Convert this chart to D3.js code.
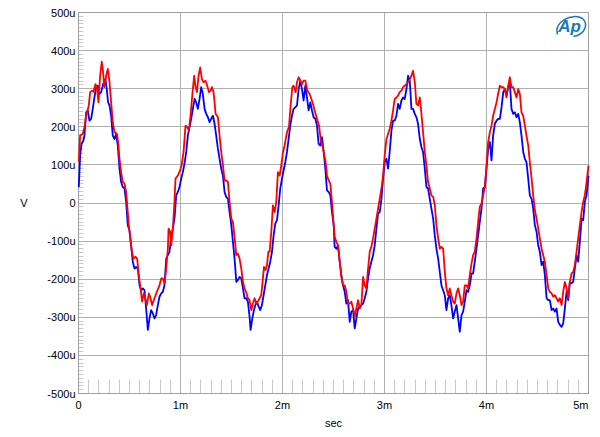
<!DOCTYPE html>
<html>
<head>
<meta charset="utf-8">
<script src="https://cdn.jsdelivr.net/npm/d3@7"></script>
<style>
    body { margin: 0; background: #fff; }
    #chart-area { width: 600px; height: 437px; }
    text { font-family: Arial, "Liberation Sans", sans-serif; font-size: 11px; fill: #000; }
</style>
</head>
<body>
<div id="chart-area"></div>
<script>
// time in ms, level in uV
const redData = [[0.003,109],[0.016,177],[0.042,182],[0.058,199],[0.075,229],[0.101,256],[0.114,291],[0.133,295],[0.147,292],[0.166,312],[0.179,304],[0.196,264],[0.212,334],[0.228,371],[0.238,352],[0.254,304],[0.271,334],[0.287,352],[0.304,317],[0.320,264],[0.336,212],[0.353,186],[0.376,182],[0.389,160],[0.402,116],[0.418,81],[0.434,55],[0.451,51],[0.467,29],[0.483,-24],[0.493,-58],[0.506,-89],[0.523,-128],[0.539,-146],[0.559,-141],[0.575,-146],[0.591,-189],[0.608,-224],[0.624,-259],[0.640,-237],[0.654,-250],[0.670,-268],[0.690,-237],[0.706,-250],[0.722,-268],[0.745,-250],[0.768,-233],[0.794,-216],[0.811,-198],[0.827,-198],[0.843,-211],[0.860,-172],[0.876,-120],[0.883,-67],[0.899,-76],[0.909,-111],[0.925,-67],[0.941,3],[0.951,64],[0.974,72],[0.997,86],[1.013,103],[1.030,134],[1.049,203],[1.066,199],[1.082,190],[1.098,229],[1.121,299],[1.134,334],[1.148,304],[1.161,291],[1.177,334],[1.193,356],[1.210,325],[1.226,317],[1.246,321],[1.262,308],[1.278,291],[1.295,295],[1.308,304],[1.324,291],[1.334,264],[1.344,234],[1.367,225],[1.383,177],[1.399,134],[1.416,99],[1.432,59],[1.448,59],[1.465,55],[1.481,3],[1.498,-41],[1.514,-50],[1.530,-89],[1.547,-137],[1.563,-133],[1.579,-146],[1.596,-172],[1.612,-207],[1.628,-224],[1.645,-235],[1.661,-250],[1.677,-255],[1.694,-281],[1.710,-264],[1.726,-250],[1.743,-264],[1.759,-259],[1.776,-250],[1.792,-242],[1.808,-198],[1.818,-168],[1.834,-176],[1.848,-163],[1.861,-128],[1.874,-128],[1.890,-76],[1.906,-6],[1.923,-24],[1.939,3],[1.955,81],[1.972,72],[1.988,99],[2.005,134],[2.021,151],[2.044,186],[2.063,199],[2.080,256],[2.096,304],[2.109,308],[2.129,291],[2.142,317],[2.158,330],[2.175,321],[2.191,312],[2.207,321],[2.224,321],[2.243,295],[2.266,286],[2.283,273],[2.299,260],[2.315,243],[2.338,221],[2.358,203],[2.374,168],[2.390,151],[2.404,134],[2.423,107],[2.436,72],[2.453,59],[2.469,51],[2.485,3],[2.502,-58],[2.512,-89],[2.528,-102],[2.544,-111],[2.561,-154],[2.577,-194],[2.593,-216],[2.610,-216],[2.626,-233],[2.642,-264],[2.659,-264],[2.675,-259],[2.692,-277],[2.708,-298],[2.724,-277],[2.741,-255],[2.757,-277],[2.773,-268],[2.790,-194],[2.806,-216],[2.822,-224],[2.839,-172],[2.855,-128],[2.871,-115],[2.888,-93],[2.904,-67],[2.921,-41],[2.937,-15],[2.953,11],[2.970,38],[2.986,72],[3.002,125],[3.019,168],[3.035,181],[3.051,195],[3.068,216],[3.084,243],[3.100,273],[3.117,277],[3.133,282],[3.149,291],[3.166,295],[3.182,304],[3.198,308],[3.215,312],[3.231,317],[3.248,325],[3.264,334],[3.280,347],[3.297,317],[3.313,260],[3.329,256],[3.346,277],[3.362,234],[3.378,186],[3.395,134],[3.411,99],[3.427,55],[3.444,38],[3.460,20],[3.477,16],[3.493,-6],[3.509,-58],[3.526,-93],[3.542,-120],[3.558,-115],[3.575,-120],[3.591,-181],[3.607,-224],[3.624,-242],[3.640,-224],[3.656,-242],[3.673,-259],[3.689,-264],[3.706,-237],[3.722,-224],[3.738,-242],[3.755,-268],[3.771,-259],[3.787,-216],[3.804,-216],[3.820,-224],[3.836,-189],[3.853,-159],[3.869,-137],[3.885,-128],[3.902,-93],[3.918,-50],[3.934,-10],[3.951,-2],[3.967,20],[3.984,42],[4.000,99],[4.016,160],[4.033,186],[4.049,203],[4.065,229],[4.082,247],[4.098,264],[4.114,286],[4.131,308],[4.147,304],[4.164,304],[4.180,299],[4.196,277],[4.213,308],[4.229,330],[4.245,304],[4.262,304],[4.278,291],[4.294,277],[4.311,299],[4.327,286],[4.343,238],[4.360,229],[4.376,203],[4.392,177],[4.409,151],[4.425,107],[4.442,64],[4.458,20],[4.474,-19],[4.491,-41],[4.507,-67],[4.523,-93],[4.540,-120],[4.556,-137],[4.572,-154],[4.589,-189],[4.605,-224],[4.621,-233],[4.638,-237],[4.654,-246],[4.670,-242],[4.687,-250],[4.703,-259],[4.719,-250],[4.736,-268],[4.752,-233],[4.768,-207],[4.785,-224],[4.801,-250],[4.817,-207],[4.834,-185],[4.850,-181],[4.866,-163],[4.883,-128],[4.899,-93],[4.915,-58],[4.932,-24],[4.948,3],[4.964,20],[4.981,55],[5.0,99]];

const blueData = [[0.003,42],[0.016,125],[0.029,155],[0.048,164],[0.058,177],[0.075,238],[0.091,243],[0.107,216],[0.124,221],[0.140,247],[0.156,277],[0.173,304],[0.189,308],[0.205,286],[0.222,291],[0.238,308],[0.254,321],[0.264,325],[0.277,299],[0.290,264],[0.304,256],[0.320,229],[0.336,177],[0.353,168],[0.369,181],[0.385,151],[0.402,90],[0.418,55],[0.434,42],[0.451,38],[0.467,3],[0.483,-58],[0.500,-72],[0.516,-111],[0.532,-154],[0.549,-172],[0.565,-168],[0.582,-172],[0.598,-216],[0.614,-229],[0.631,-224],[0.647,-229],[0.663,-277],[0.680,-333],[0.696,-303],[0.712,-281],[0.729,-290],[0.745,-303],[0.761,-294],[0.778,-268],[0.794,-246],[0.811,-237],[0.827,-233],[0.843,-216],[0.860,-146],[0.876,-137],[0.892,-128],[0.909,-89],[0.925,-67],[0.941,-41],[0.958,20],[0.974,29],[0.990,42],[1.007,64],[1.023,81],[1.039,103],[1.056,134],[1.072,177],[1.089,199],[1.105,221],[1.121,247],[1.138,273],[1.154,264],[1.170,247],[1.187,273],[1.203,304],[1.219,286],[1.236,247],[1.252,234],[1.269,225],[1.285,212],[1.301,221],[1.318,229],[1.334,208],[1.350,177],[1.367,142],[1.383,116],[1.399,90],[1.416,72],[1.432,29],[1.448,16],[1.465,11],[1.481,-24],[1.498,-58],[1.514,-102],[1.530,-146],[1.547,-207],[1.563,-202],[1.579,-194],[1.596,-198],[1.612,-224],[1.628,-250],[1.645,-250],[1.661,-259],[1.677,-298],[1.687,-333],[1.704,-303],[1.717,-285],[1.733,-268],[1.749,-259],[1.766,-272],[1.782,-281],[1.798,-268],[1.815,-242],[1.831,-216],[1.848,-189],[1.864,-172],[1.880,-154],[1.897,-128],[1.913,-85],[1.929,-54],[1.946,-45],[1.962,-6],[1.978,38],[1.995,64],[2.011,86],[2.027,107],[2.044,134],[2.060,168],[2.076,203],[2.093,229],[2.109,247],[2.125,251],[2.142,256],[2.158,299],[2.175,321],[2.191,299],[2.207,269],[2.224,308],[2.240,277],[2.256,243],[2.273,264],[2.289,243],[2.305,225],[2.322,221],[2.338,203],[2.354,155],[2.371,151],[2.387,173],[2.404,134],[2.420,90],[2.436,33],[2.453,29],[2.469,20],[2.485,-24],[2.502,-58],[2.511,-115],[2.528,-120],[2.544,-111],[2.561,-154],[2.577,-189],[2.593,-216],[2.610,-233],[2.626,-264],[2.642,-255],[2.659,-312],[2.675,-285],[2.692,-281],[2.708,-329],[2.724,-303],[2.741,-277],[2.757,-272],[2.773,-268],[2.790,-264],[2.806,-250],[2.822,-233],[2.839,-198],[2.855,-172],[2.871,-154],[2.888,-137],[2.904,-111],[2.921,-67],[2.937,-28],[2.953,-24],[2.970,11],[2.986,64],[3.002,107],[3.019,116],[3.035,90],[3.051,134],[3.068,190],[3.084,216],[3.100,216],[3.117,229],[3.133,260],[3.149,247],[3.166,269],[3.182,277],[3.198,273],[3.215,299],[3.231,334],[3.248,321],[3.264,247],[3.280,247],[3.297,234],[3.313,225],[3.329,208],[3.346,168],[3.362,147],[3.378,134],[3.395,90],[3.411,42],[3.427,38],[3.444,11],[3.460,-15],[3.477,-41],[3.493,-85],[3.509,-120],[3.526,-146],[3.542,-181],[3.558,-216],[3.575,-229],[3.591,-242],[3.607,-281],[3.624,-250],[3.640,-242],[3.656,-268],[3.673,-303],[3.689,-285],[3.706,-268],[3.722,-303],[3.738,-338],[3.755,-294],[3.771,-285],[3.787,-259],[3.804,-229],[3.820,-233],[3.836,-216],[3.853,-185],[3.869,-185],[3.885,-154],[3.902,-120],[3.918,-85],[3.934,-50],[3.951,-15],[3.967,38],[3.984,42],[4.000,90],[4.016,142],[4.033,160],[4.049,112],[4.065,177],[4.082,208],[4.098,216],[4.114,221],[4.131,221],[4.147,250],[4.164,291],[4.180,299],[4.196,282],[4.213,304],[4.229,317],[4.245,247],[4.262,234],[4.278,238],[4.294,225],[4.311,234],[4.327,212],[4.343,177],[4.360,134],[4.376,116],[4.392,107],[4.409,64],[4.425,20],[4.442,11],[4.458,-15],[4.474,-58],[4.491,-76],[4.507,-111],[4.523,-128],[4.540,-163],[4.556,-154],[4.572,-189],[4.589,-250],[4.605,-255],[4.621,-255],[4.638,-281],[4.654,-277],[4.670,-285],[4.687,-277],[4.703,-312],[4.719,-320],[4.736,-325],[4.752,-316],[4.768,-277],[4.785,-233],[4.801,-255],[4.817,-207],[4.834,-211],[4.850,-207],[4.866,-172],[4.883,-137],[4.899,-154],[4.915,-102],[4.932,-41],[4.948,-45],[4.964,3],[4.981,20],[5.0,72]];

const xTicks = [0, 1, 2, 3, 4, 5];
const xTickLabels = ["0", "1m", "2m", "3m", "4m", "5m"];
const yTicks = [500, 400, 300, 200, 100, 0, -100, -200, -300, -400, -500];
const yTickLabels = ["500u", "400u", "300u", "200u", "100u", "0", "-100u", "-200u", "-300u", "-400u", "-500u"];

let margin = {top: 12.5, left: 78.5, right: 11.5, bottom: 43.5};
let width = 600 - margin.left - margin.right;
let height = 437 - margin.top - margin.bottom;

let svg = d3.select("#chart-area").append("svg")
    .attr("width", 600)
    .attr("height", 437)
    .append("g")
    .attr("transform", `translate(${margin.left}, ${margin.top})`);

// scales
let x = d3.scaleLinear().domain([0, 5]).range([0, width]);
let y = d3.scaleLinear().domain([-500, 500]).range([height, 0]);

// grid
svg.append("g").selectAll("line")
    .data(yTicks.slice(1, -1))
    .enter().append("line")
    .attr("x1", 0).attr("x2", width)
    .attr("y1", d => Math.round(y(d))).attr("y2", d => Math.round(y(d)))
    .attr("stroke", "#b0b0b0").attr("stroke-width", 1);
svg.append("g").selectAll("line")
    .data(xTicks.slice(1, -1))
    .enter().append("line")
    .attr("x1", d => Math.round(x(d))).attr("x2", d => Math.round(x(d)))
    .attr("y1", 0).attr("y2", height)
    .attr("stroke", "#b0b0b0").attr("stroke-width", 1);

// minor ticks, left every 10u, bottom every 0.1m
svg.append("g").selectAll("line")
    .data(d3.range(-490, 500, 10).filter(d => d % 100 !== 0))
    .enter().append("line")
    .attr("x1", 0).attr("x2", 5)
    .attr("y1", d => Math.round(y(d))).attr("y2", d => Math.round(y(d)))
    .attr("stroke", "#c8c8c8");
svg.append("g").selectAll("line")
    .data(d3.range(1, 50).filter(d => d % 10 !== 0))
    .enter().append("line")
    .attr("x1", d => Math.round(x(d / 10))).attr("x2", d => Math.round(x(d / 10)))
    .attr("y1", height - 14).attr("y2", height)
    .attr("stroke", "#c8c8c8");

// frame
svg.append("rect")
    .attr("width", width).attr("height", height)
    .attr("fill", "none").attr("stroke", "#a0a0a0");

// traces
let line = d3.line().x(d => x(d[0])).y(d => y(d[1]));
svg.append("path").datum(blueData)
    .attr("d", line).attr("fill", "none")
    .attr("stroke", "#0000ff").attr("stroke-width", 1.8).attr("stroke-linejoin", "round");
svg.append("path").datum(redData)
    .attr("d", line).attr("fill", "none")
    .attr("stroke", "#ff0000").attr("stroke-width", 1.8).attr("stroke-linejoin", "round");

// tick labels
svg.append("g").selectAll("text")
    .data(yTicks)
    .enter().append("text")
    .attr("x", -3).attr("y", d => y(d) + 4)
    .style("text-anchor", "end")
    .text((d, i) => yTickLabels[i]);
svg.append("g").selectAll("text")
    .data(xTicks)
    .enter().append("text")
    .attr("x", d => x(d)).attr("y", height + 15)
    .style("text-anchor", (d, i) => i === xTicks.length - 1 ? "end" : "middle")
    .text((d, i) => xTickLabels[i]);

// axis titles
svg.append("text")
    .attr("x", 24 - margin.left).attr("y", y(0) + 4)
    .style("text-anchor", "middle")
    .text("V");
svg.append("text")
    .attr("x", x(2.5)).attr("y", height + 33)
    .style("text-anchor", "middle")
    .text("sec");

// Ap logo
let logo = svg.append("g").attr("transform", `translate(${width - 18}, 13)`);
logo.append("path")
    .attr("d", "M-13,9 C-17,-4 2,-13 12,-7 C18,-2 15,9 3,11")
    .attr("fill", "none").attr("stroke", "#1a78b8").attr("stroke-width", 1.5);
logo.append("text")
    .attr("x", -1).attr("y", 6)
    .style("text-anchor", "middle")
    .style("font-size", "17px")
    .style("font-style", "italic")
    .style("font-weight", "bold")
    .style("fill", "#1a78b8")
    .text("Ap");
</script>
</body>
</html>
